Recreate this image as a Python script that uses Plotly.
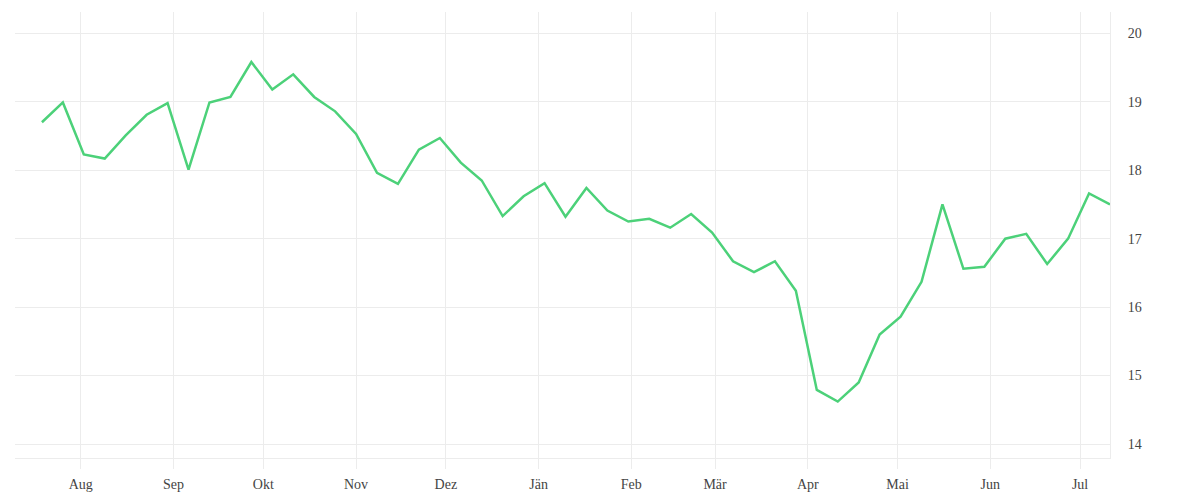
import pandas as pd
import plotly.graph_objects as go

# weekly values, 2022-07-19 .. 2023-07-11
start_date = "2022-07-19"
n_weeks = 52
values = [
    18.70, 18.99, 18.23, 18.17, 18.51, 18.81, 18.98, 18.01, 18.99, 19.07,
    19.58, 19.18, 19.40, 19.07, 18.86, 18.53, 17.96, 17.80, 18.30, 18.47,
    18.11, 17.85, 17.33, 17.62, 17.81, 17.32, 17.74, 17.41, 17.25, 17.29,
    17.16, 17.36, 17.09, 16.67, 16.51, 16.67, 16.24, 14.79, 14.62, 14.90,
    15.60, 15.86, 16.37, 17.50, 16.56, 16.59, 17.00, 17.07, 16.63, 17.00,
    17.66, 17.50,
]
dates = pd.date_range(start_date, periods=n_weeks, freq="7D")

# x axis labels (German, Austrian)
month_ticks = pd.date_range("2022-08-01", "2023-07-01", freq="MS")
month_labels = ["Aug", "Sep", "Okt", "Nov", "Dez", "Jän",
                "Feb", "Mär", "Apr", "Mai", "Jun", "Jul"]
y_ticks = [14, 15, 16, 17, 18, 19, 20]

grid = "#ececec"
font = dict(family="Liberation Serif, serif", size=14, color="#444444")

fig = go.Figure()
fig.add_trace(go.Scatter(
    x=dates,
    y=values,
    mode="lines",
    line=dict(color="#4cd179", width=2.5),
    showlegend=False,
))

# page body adds ~8px offset, margins chosen to land the plot area where the reference has it
fig.update_layout(
    width=1200,
    height=500,
    plot_bgcolor="white",
    paper_bgcolor="white",
    font=font,
    margin=dict(l=7, r=98, t=4, b=50),
)

fig.update_xaxes(
    range=["2022-07-10", "2023-07-11"],
    tickvals=month_ticks,
    ticktext=month_labels,
    showgrid=True,
    gridcolor=grid,
    gridwidth=1,
    ticks="outside",
    ticklen=10,
    tickcolor=grid,
    showline=True,
    linecolor=grid,
    zeroline=False,
    ticklabelstandoff=3,
)
fig.update_yaxes(
    side="right",
    range=[13.796, 20.311],
    tickvals=y_ticks,
    showgrid=True,
    gridcolor=grid,
    gridwidth=1,
    showline=True,
    linecolor=grid,
    zeroline=False,
    ticklabelstandoff=14,
)

fig.write_html("out.html")
